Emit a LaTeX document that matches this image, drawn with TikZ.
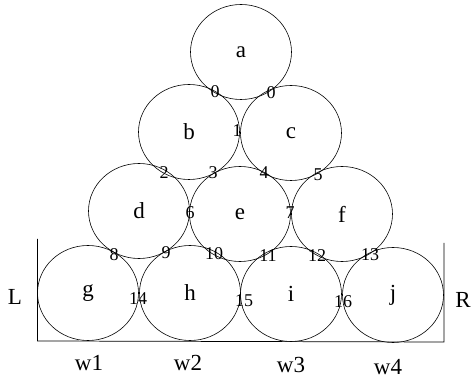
\documentclass[tikz,border=0pt]{standalone}
\usepackage{fontspec}
\setmainfont{Liberation Serif}
\usetikzlibrary{positioning, shapes.geometric}

\tikzset{
  ball/.style={draw, ellipse, line width=0.6pt, inner sep=0pt,
    minimum width=101pt, minimum height=95pt,
    font=\fontsize{23}{23}\selectfont},
  num/.style={inner sep=0pt, font=\fontsize{18}{18}\selectfont},
  side/.style={inner sep=0pt, font=\fontsize{23}{23}\selectfont}
}

\begin{document}
\begin{tikzpicture}[x=1pt, y=-1pt]

\useasboundingbox (0,0) rectangle (472,379);

% --- Container walls ---
\draw[line width=0.7pt] (37.5,239) -- (37.5,341) -- (444,342) -- (444,243);

% --- Balls ---
\foreach \n/\x/\y in {a/241/52, b/189/132, c/291/133,
                      d/139/211, e/240/214, f/342/214,
                      g/88/293, h/190/293, i/291/294, j/393/295} {
  \node[ball] (\n) at (\x,\y) {\n};
}

% --- Contact numbers ---
\foreach \k/\x/\y/\lab in {0a/215/92/0, 0b/271/93/0, 1/237/131/1,
    2/164/173/2, 3/213/173/3, 4/264/173/4, 5/318/175/5,
    6/190/213/6, 7/290/213/7,
    8/114/255/8, 9/166/253/9, 10/214/254/10, 11/268/256/11,
    12/317/256/12, 13/370/255/13,
    14/138/299/14, 15/244/301/15, 16/343/302/16} {
  \node[num] (p\k) at (\x,\y) {\lab};
}

% --- Wall labels ---
\node[side] (L) at (15,297) {L};
\node[side] (R) at (463,300) {R};

% --- Weight labels ---
\foreach \k/\x/\y in {1/89/363, 2/188/363, 3/291/365, 4/388/367} {
  \node[side] (w\k) at (\x,\y) {w\k};
}

\end{tikzpicture}
\end{document}
